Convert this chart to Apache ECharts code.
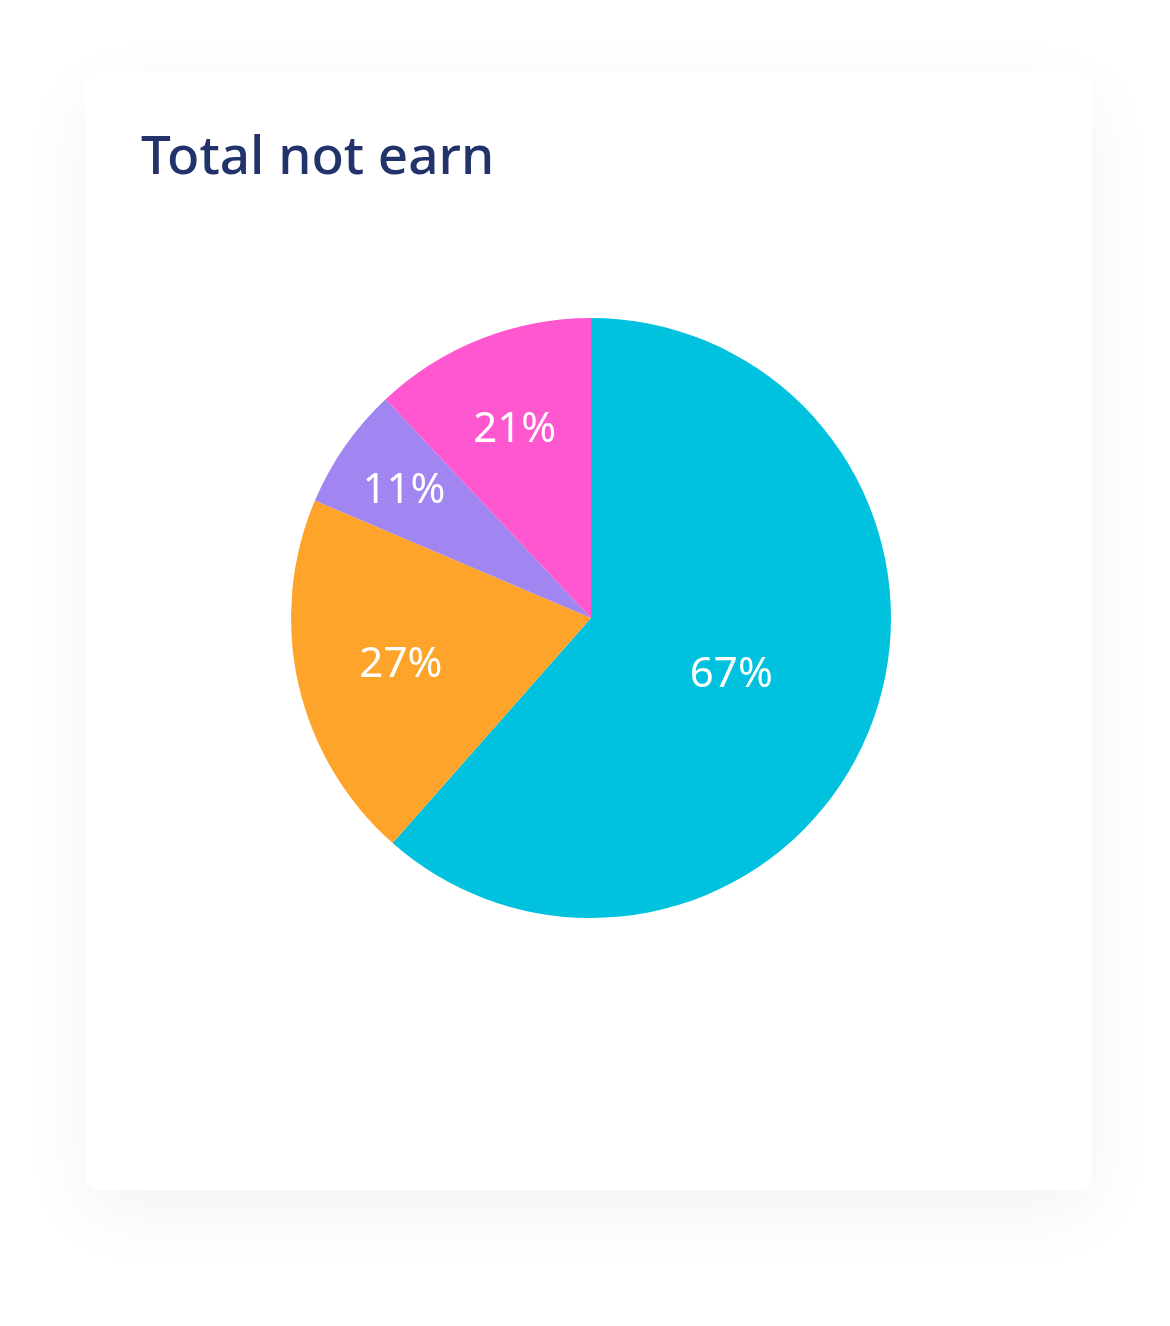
<!DOCTYPE html>
<html>
<head>
<meta charset="utf-8">
<script src="https://cdn.jsdelivr.net/npm/echarts@6/dist/echarts.min.js"></script>
<style>
html,body{margin:0;padding:0;background:#fff;}
#chart{width:1170px;height:1326px;}
</style>
</head>
<body>
<div id="chart"></div>
<script>
// Data
const titleText = 'Total not earn';
const categories = ['A', 'B', 'C', 'D'];
const sliceValues = [61.5, 19.9, 6.6, 12.0];
const labelTexts = ['67%', '27%', '11%', '21%'];
const sliceColors = ['#00C1DE', '#FFA42B', '#A185F1', '#FF57D0'];

const CX = 591, CY = 618, R = 300;
const labelRadiusFrac = [0.5, 0.65, 0.76, 0.69];

const total = sliceValues.reduce((a, b) => a + b, 0);
function midAngle(i) {
  let cum = 0;
  for (let k = 0; k < i; k++) cum += sliceValues[k];
  return ((cum + sliceValues[i] / 2) / total) * 2 * Math.PI;
}

const chart = echarts.init(document.getElementById('chart'), null, {renderer: 'canvas'});
chart.setOption({
  backgroundColor: '#ffffff',
  animation: false,
  graphic: [{
    type: 'rect',
    z: -10,
    shape: {x: 85, y: 72, width: 1007, height: 1118, r: 14},
    style: {fill: '#ffffff', shadowBlur: 70, shadowColor: 'rgba(0,0,0,0.05)', shadowOffsetY: 22}
  }],
  title: {
    text: titleText,
    left: 136,
    top: 127,
    textStyle: {fontFamily: 'Noto Sans', fontWeight: 500, fontSize: 53, color: '#22336B'}
  },
  series: [{
    type: 'pie',
    center: [CX, CY],
    radius: [0, R],
    startAngle: 90,
    clockwise: true,
    silent: true,
    itemStyle: {borderWidth: 0},
    label: {
      show: true,
      position: 'inside',
      color: '#ffffff',
      fontFamily: 'Noto Sans',
      fontSize: 42,
      formatter: p => labelTexts[p.dataIndex]
    },
    labelLine: {show: false},
    labelLayout: function (params) {
      const i = params.dataIndex;
      const a = midAngle(i);
      const r = R * labelRadiusFrac[i];
      return {
        x: CX + r * Math.sin(a),
        y: CY - r * Math.cos(a) + 4,
        align: 'center',
        verticalAlign: 'middle'
      };
    },
    data: categories.map((c, i) => ({
      name: c,
      value: sliceValues[i],
      itemStyle: {color: sliceColors[i]}
    }))
  }]
});
</script>
</body>
</html>
